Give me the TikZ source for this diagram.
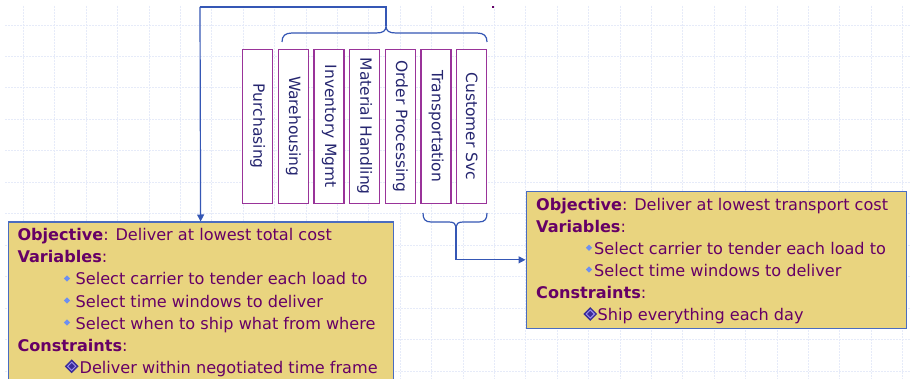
\documentclass[tikz,border=0pt]{standalone}
\usepackage{fontspec}
\setmainfont{DejaVu Sans}
\usetikzlibrary{arrows.meta,shapes.geometric}
\definecolor{gridc}{HTML}{E6EBF9}
\definecolor{connc}{HTML}{3557B5}
\definecolor{boxpurple}{HTML}{993399}
\definecolor{labnavy}{HTML}{262670}
\definecolor{txtpurple}{HTML}{660066}
\definecolor{khaki}{HTML}{E9D47F}
\definecolor{kborder}{HTML}{4A6CC0}
\definecolor{sbulc}{HTML}{6E90F0}
\definecolor{cbulc}{HTML}{3A2B98}
\definecolor{cbulinc}{HTML}{9C90F0}
\begin{document}
\begin{tikzpicture}[x=1pt,y=-1pt,
  gridline/.style={draw=gridc,line width=0.8pt,dash pattern=on 2pt off 1pt},
  connline/.style={draw=connc,line width=1.2pt},
  arrowline/.style={connline,-{Triangle[length=7pt,width=7pt]}},
  funcbox/.style={draw=boxpurple,fill=white,line width=1.2pt,rotate=-90,
    minimum width=154pt,minimum height=30pt,inner sep=0pt,
    text=labnavy,font=\fontsize{15.5pt}{18pt}\selectfont},
  ybox/.style={draw=kborder,fill=khaki,line width=1.2pt,anchor=north west,inner sep=0pt},
  txt/.style={anchor=base west,inner sep=0pt,text=txtpurple,font=\fontsize{16.1pt}{22pt}\selectfont},
  sbul/.style={diamond,fill=sbulc,inner sep=0pt,minimum size=6.5pt},
  cbul/.style={diamond,fill=cbulc,inner sep=0pt,minimum size=14pt},
  cbulin/.style={diamond,draw=cbulinc,fill=cbulc,line width=0.9pt,inner sep=0pt,minimum size=8.5pt}
]
\clip (0,0) rectangle (910,379);
\fill[white] (0,0) rectangle (910,379);
% grid
\foreach \i in {0,...,28} \draw[gridline] (23.3+31.4*\i,6) -- (23.3+31.4*\i,379);
\foreach \j in {0,...,11} \draw[gridline] (5,25+31.45*\j) -- (910,25+31.45*\j);
% small mark
\fill[txtpurple] (492.3,5.8) rectangle (494.3,7.8);
% function boxes
\foreach \k/\t in {1/Purchasing,2/Warehousing,3/Inventory Mgmt,4/Material Handling,5/Order Processing,6/Transportation,7/Customer Svc}
  \node[funcbox] (f\k) at (257.7+35.67*\k-35.67,126.3) {\t};
% braces
\draw[connline] (282,42) .. controls (282,36) and (285,33) .. (292,33) -- (376,33)
  .. controls (383,33) and (386,31) .. (386,26) .. controls (386,31) and (389,33) .. (396,33)
  -- (477,33) .. controls (484,33) and (487,36) .. (487,42);
\draw[connline] (423,213) .. controls (423,219) and (425,222) .. (431,222) -- (449,222)
  .. controls (454,222) and (456,224) .. (456,227) .. controls (456,224) and (458,222) .. (463,222)
  -- (479,222) .. controls (485,222) and (487,219) .. (487,213);
\coordinate (topcusp) at (386,26);
\coordinate (topcorner) at (200,7);
\coordinate (botcusp) at (456,227);
% yellow boxes
\node[ybox,minimum width=385pt,minimum height=175pt] (lbox) at (7.5,221.5) {};
\node[ybox,minimum width=380pt,minimum height=136.5pt] (rbox) at (525.5,191) {};
% connectors
\draw[connline] (topcusp) |- (topcorner);
\draw[arrowline] (topcorner) -- (lbox.north);
\draw[arrowline] (botcusp) |- (rbox.west);
% left box text
\node[txt] (l1) at (17.3,241) {\textbf{Objective}: Deliver at lowest total cost};
\node[txt] (l2) at (17.3,263) {\textbf{Variables}:};
\node[sbul] (lb1) at (67,278.5) {};
\node[txt] (l3) at (75.5,285) {Select carrier to tender each load to};
\node[sbul] (lb2) at (67,300.5) {};
\node[txt] (l4) at (75.5,307) {Select time windows to deliver};
\node[sbul] (lb3) at (67,322.5) {};
\node[txt] (l5) at (75.5,329) {Select when to ship what from where};
\node[txt] (l6) at (17.3,351) {\textbf{Constraints}:};
\node[cbul] (lc) at (71.7,366.3) {};
\node[cbulin] (lci) at (lc) {};
\node[txt] (l7) at (79.5,373) {Deliver within negotiated time frame};
% right box text
\node[txt] (r1) at (536,210.5) {\textbf{Objective}: Deliver at lowest transport cost};
\node[txt] (r2) at (536,232.5) {\textbf{Variables}:};
\node[sbul] (rb1) at (589,247.7) {};
\node[txt] (r3) at (594,254.5) {Select carrier to tender each load to};
\node[sbul] (rb2) at (589,269.5) {};
\node[txt] (r4) at (594,276.5) {Select time windows to deliver};
\node[txt] (r5) at (536,298.5) {\textbf{Constraints}:};
\node[cbul] (rc) at (590.3,314) {};
\node[cbulin] (rci) at (rc) {};
\node[txt] (r6) at (597.5,320.5) {Ship everything each day};
\end{tikzpicture}
\end{document}
